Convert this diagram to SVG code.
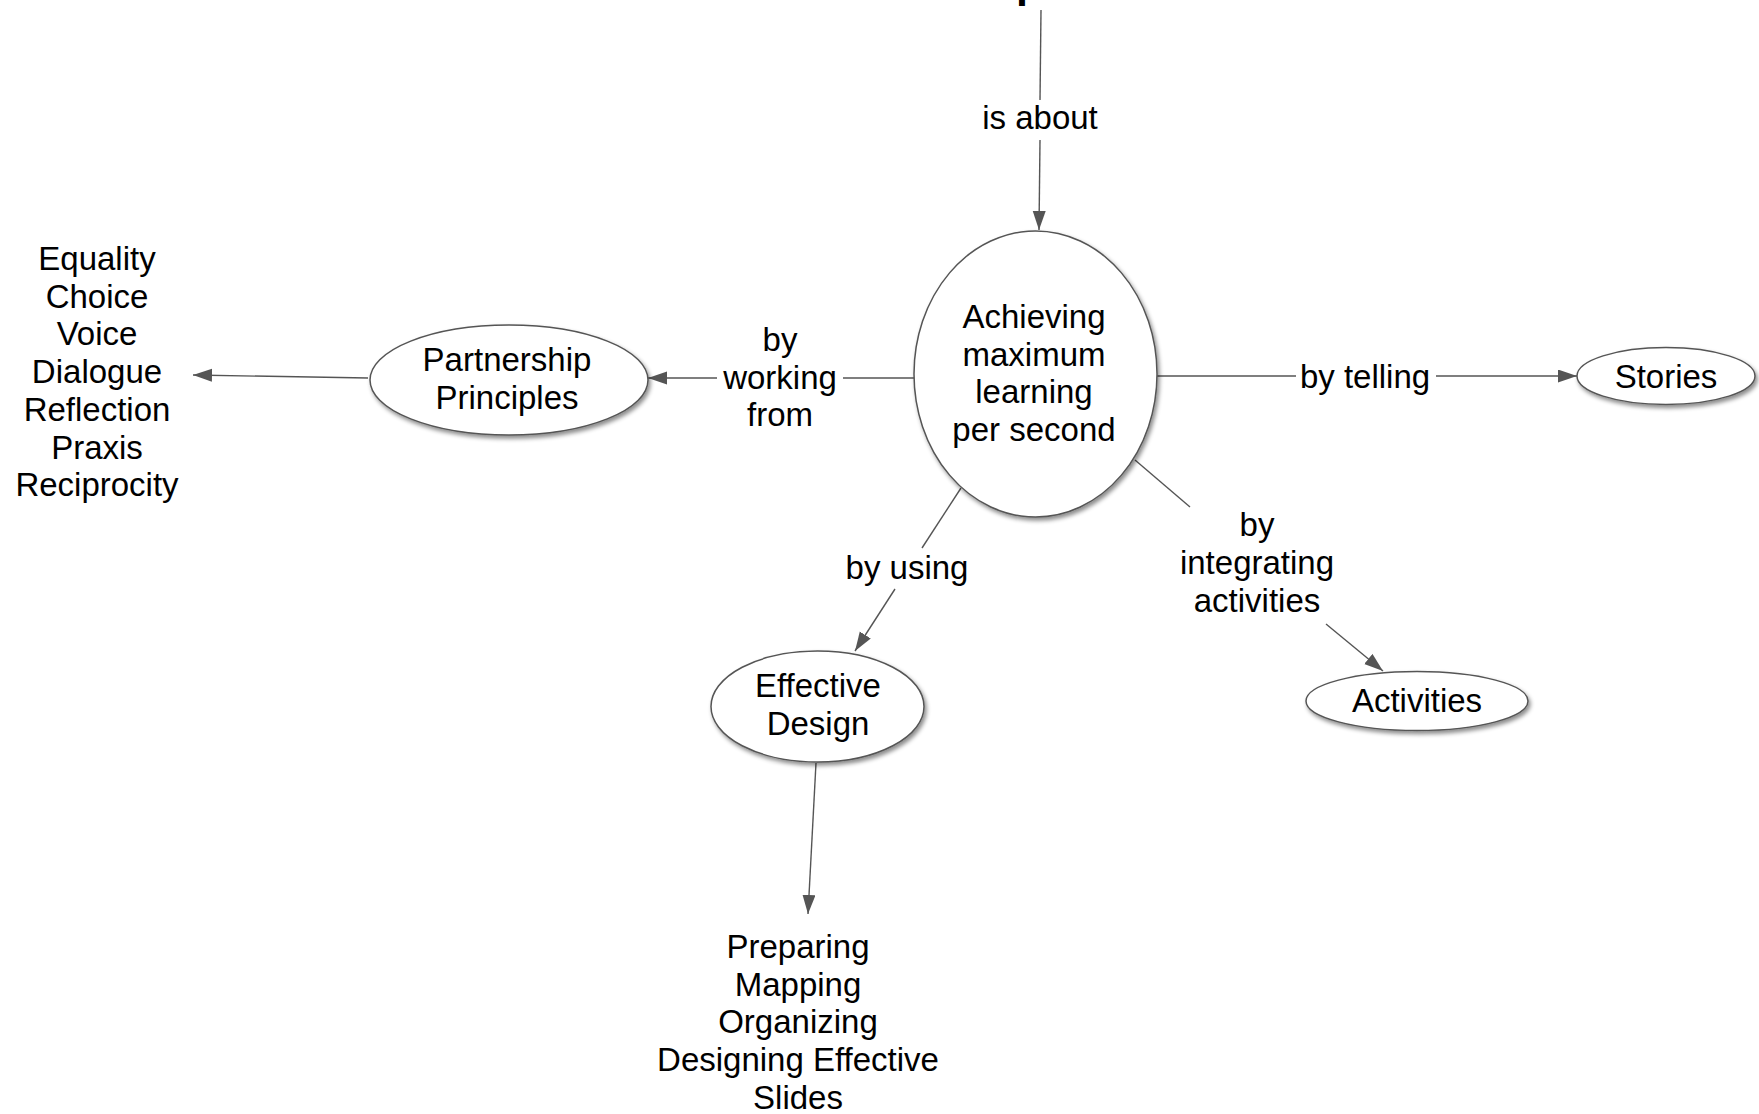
<svg xmlns="http://www.w3.org/2000/svg" width="1759" height="1114" viewBox="0 0 1759 1114">
<style>
text{font-family:"Liberation Sans",Arial,sans-serif;font-size:33px;fill:#000;text-anchor:middle}
.node ellipse{fill:#fff;stroke:#555;stroke-width:1.5;filter:url(#sh)}
.edge line{stroke:#555;stroke-width:1.4;fill:none}
</style>
<defs>
<filter id="sh" x="-20%" y="-20%" width="150%" height="150%">
<feDropShadow dx="2" dy="3" stdDeviation="2" flood-color="#000" flood-opacity="0.45"/>
</filter>
<marker id="ah" markerUnits="userSpaceOnUse" markerWidth="20" markerHeight="14" refX="19" refY="6.5" orient="auto">
<path d="M0,0 L19,6.5 L0,13 z" fill="#555"/>
</marker>
</defs>
<rect width="1759" height="1114" fill="#fff"/>
<text x="1016" y="-3" style="font-weight:bold;font-size:43px;text-anchor:start">p</text>

<g id="connectors" class="edge">
<line x1="1041" y1="10" x2="1040" y2="100"/>
<line x1="1040" y1="140" x2="1039" y2="230" marker-end="url(#ah)"/>
<line x1="914" y1="378" x2="843" y2="378"/>
<line x1="717" y1="378" x2="648" y2="378" marker-end="url(#ah)"/>
<line x1="368" y1="378" x2="193" y2="375" marker-end="url(#ah)"/>
<line x1="1157" y1="376" x2="1296" y2="376"/>
<line x1="1436" y1="376" x2="1577" y2="376" marker-end="url(#ah)"/>
<line x1="961" y1="488" x2="922" y2="548"/>
<line x1="895" y1="589" x2="855" y2="651" marker-end="url(#ah)"/>
<line x1="1135" y1="460" x2="1190" y2="507"/>
<line x1="1326" y1="624" x2="1383" y2="671" marker-end="url(#ah)"/>
<line x1="816" y1="763" x2="808" y2="914" marker-end="url(#ah)"/>
<text x="1040" y="129">is about</text>
<text x="780" y="351">by</text>
<text x="780" y="388.5">working</text>
<text x="780" y="426">from</text>
<text x="1365" y="388">by telling</text>
<text x="907" y="579">by using</text>
<text x="1257" y="536">by</text>
<text x="1257" y="574">integrating</text>
<text x="1257" y="612">activities</text>
</g>

<g id="center" class="node">
<ellipse cx="1035.5" cy="374" rx="121.5" ry="143"/>
<text x="1034" y="328">Achieving</text>
<text x="1034" y="365.5">maximum</text>
<text x="1034" y="403">learning</text>
<text x="1034" y="440.5">per second</text>
</g>

<g id="partnership" class="node">
<ellipse cx="509" cy="380" rx="139" ry="55"/>
<text x="507" y="371">Partnership</text>
<text x="507" y="408.5">Principles</text>
</g>

<g id="principles-list">
<text x="97" y="270">Equality</text>
<text x="97" y="307.7">Choice</text>
<text x="97" y="345.4">Voice</text>
<text x="97" y="383.1">Dialogue</text>
<text x="97" y="420.8">Reflection</text>
<text x="97" y="458.5">Praxis</text>
<text x="97" y="496.2">Reciprocity</text>
</g>

<g id="stories" class="node">
<ellipse cx="1666" cy="376" rx="89" ry="28.5"/>
<text x="1666" y="388">Stories</text>
</g>

<g id="design" class="node">
<ellipse cx="817.5" cy="706.5" rx="106.5" ry="55.5"/>
<text x="818" y="697">Effective</text>
<text x="818" y="734.5">Design</text>
</g>

<g id="design-list">
<text x="798" y="958">Preparing</text>
<text x="798" y="995.7">Mapping</text>
<text x="798" y="1033.4">Organizing</text>
<text x="798" y="1071">Designing Effective</text>
<text x="798" y="1108.8">Slides</text>
</g>

<g id="activities" class="node">
<ellipse cx="1417" cy="701" rx="111" ry="29.5"/>
<text x="1417" y="712">Activities</text>
</g>
</svg>
